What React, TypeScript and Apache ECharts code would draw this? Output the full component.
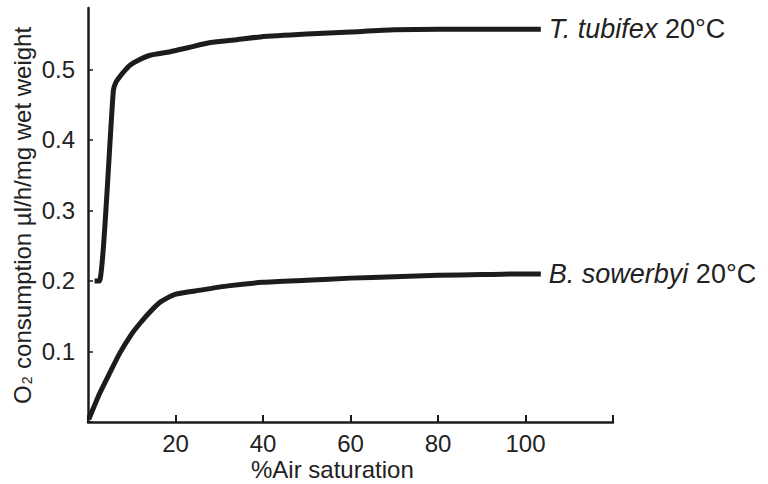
import React, { useEffect, useRef } from "react";
import * as echarts from "echarts";

const xTicks = [20, 40, 60, 80, 100];
const yTicks = [0.1, 0.2, 0.3, 0.4, 0.5];

const tubifexX = [1.5, 2.6, 5.8, 6.4, 7.3, 8.5, 9.6, 11.5, 14.2, 18.8, 23, 28, 34, 39.4, 50, 60, 70, 80, 90, 103.5];
const tubifexY = [0.2, 0.2, 0.47, 0.482, 0.49, 0.499, 0.506, 0.513, 0.52, 0.525, 0.531, 0.538, 0.542, 0.546, 0.55, 0.553, 0.556, 0.557, 0.557, 0.557];

const sowerbyiX = [0.2, 2.7, 5, 7.3, 10, 11.9, 14, 16.5, 19.9, 25.7, 32, 40, 50, 60, 70, 80, 90, 100, 103.5];
const sowerbyiY = [0.004, 0.041, 0.07, 0.098, 0.125, 0.14, 0.155, 0.17, 0.181, 0.187, 0.193, 0.198, 0.201, 0.204, 0.206, 0.208, 0.209, 0.21, 0.21];

const FONT = "'Liberation Sans', Arial, sans-serif";
const INK = "#1c1c1c";
const TXT = "#222";

export default function App() {
  const ref = useRef<HTMLDivElement>(null);
  useEffect(() => {
    if (!ref.current) return;
    const chart = echarts.init(ref.current, null, { renderer: "svg" });
    const zip = (xs: number[], ys: number[]) => xs.map((x, i) => [x, ys[i]]);
    const endLabel = (italic: string) => ({
      show: true,
      distance: 8,
      formatter: `{i|${italic}}{n| 20°C}`,
      rich: {
        i: { fontFamily: FONT, fontStyle: "italic", fontSize: 27, color: TXT },
        n: { fontFamily: FONT, fontSize: 27, color: TXT },
      },
    });
    chart.setOption({
      animation: false,
      grid: { left: 88, top: 8, right: 155, bottom: 62, containLabel: false },
      xAxis: {
        type: "value",
        min: 0,
        max: 120,
        interval: 20,
        splitLine: { show: false },
        axisLine: { show: true, lineStyle: { color: INK, width: 2.5 } },
        axisTick: { show: true, inside: true, length: 7, lineStyle: { color: INK, width: 2 } },
        axisLabel: {
          fontFamily: FONT,
          fontSize: 24,
          color: TXT,
          margin: 9,
          formatter: (v: number) => (xTicks.includes(v) ? String(v) : ""),
        },
      },
      yAxis: {
        type: "value",
        min: 0,
        max: 0.587,
        interval: 0.1,
        splitLine: { show: false },
        axisLine: { show: true, lineStyle: { color: INK, width: 2.5 } },
        axisTick: { show: true, inside: true, length: 5, lineStyle: { color: INK, width: 1.5 } },
        axisLabel: {
          fontFamily: FONT,
          fontSize: 24,
          color: TXT,
          margin: 13,
          showMaxLabel: false,
          formatter: (v: number) => {
            const r = Math.round(v * 10) / 10;
            return yTicks.includes(r) && Math.abs(v - r) < 1e-6 ? r.toFixed(1) : "";
          },
        },
      },
      graphic: [
        {
          type: "text",
          left: 251,
          top: 457,
          style: { text: "%Air saturation", fontFamily: FONT, fontSize: 24, fill: TXT },
        },
        {
          type: "text",
          x: 10,
          y: 404,
          rotation: Math.PI / 2,
          style: {
            text: "{t|O}{s|2}{t| consumption µl/h/mg wet weight}",
            fontFamily: FONT,
            fontSize: 24,
            fill: TXT,
            rich: {
              t: { fontFamily: FONT, fontSize: 24, fill: TXT, verticalAlign: "bottom" },
              s: { fontFamily: FONT, fontSize: 14, fill: TXT, verticalAlign: "bottom", padding: [0, 1, 0, 1] },
            },
          },
        },
      ],
      series: [
        {
          type: "line",
          data: zip(tubifexX, tubifexY),
          symbol: "none",
          smooth: 0.2,
          lineStyle: { color: INK, width: 5, join: "round", cap: "butt" },
          endLabel: endLabel("T. tubifex"),
        },
        {
          type: "line",
          data: zip(sowerbyiX, sowerbyiY),
          symbol: "none",
          smooth: 0.2,
          lineStyle: { color: INK, width: 5, join: "round", cap: "butt" },
          endLabel: endLabel("B. sowerbyi"),
        },
      ],
    });
    return () => chart.dispose();
  }, []);
  return <div ref={ref} style={{ width: 768, height: 484, position: "absolute", left: 0, top: 0, background: "#fff" }} />;
}
